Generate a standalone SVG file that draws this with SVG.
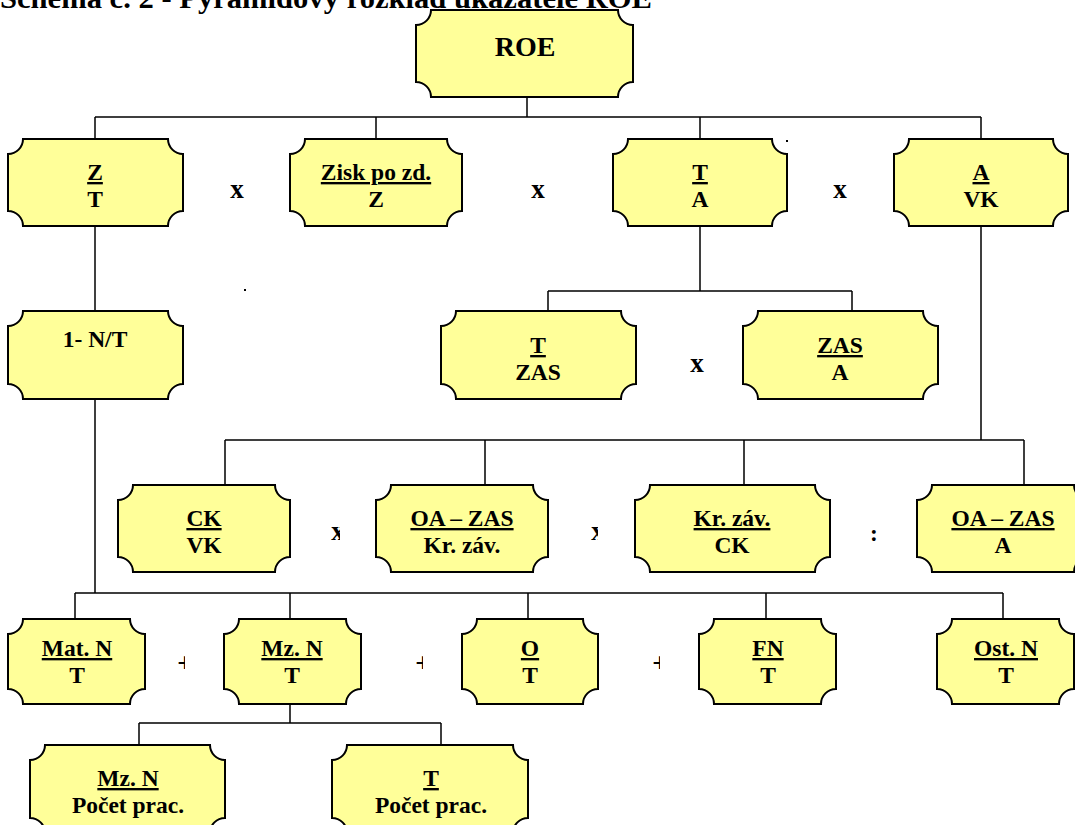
<svg xmlns="http://www.w3.org/2000/svg" width="1075" height="825" viewBox="0 0 1075 825">
<defs>
<style>
.box { fill: #FFFF99; stroke: #000; stroke-width: 2; }
.t { font-family: "Liberation Serif", "Times New Roman", serif; font-weight: bold; font-size: 23.5px; text-anchor: middle; fill: #000; }
.u { text-decoration: underline; }
.op { font-family: "Liberation Serif", "Times New Roman", serif; font-weight: bold; font-size: 27px; text-anchor: middle; fill: #000; }
.title { font-family: "Liberation Serif", "Times New Roman", serif; font-weight: bold; font-size: 29px; fill: #000; }
.conn path { fill: none; stroke: #000; stroke-width: 1.5; }
</style>
<clipPath id="c1"><rect x="170" y="640" width="15" height="40"/></clipPath>
<clipPath id="c2"><rect x="405" y="640" width="18" height="40"/></clipPath>
<clipPath id="c3"><rect x="640" y="640" width="20" height="40"/></clipPath>
<clipPath id="c4"><rect x="328" y="526" width="12" height="18"/></clipPath>
<clipPath id="c5"><rect x="588" y="526" width="10" height="18"/></clipPath>
</defs>
<rect width="1075" height="825" fill="#fff"/>
<text class="title" x="0" y="8" textLength="652" lengthAdjust="spacingAndGlyphs">Schéma č. 2 - Pyramidový rozklad ukazatele ROE</text>

<g class="conn" id="connectors">
<path d="M527 97V117M95 117H981M95 117V139M376 117V139M700 117V139M981 117V139"/>
<path d="M95 226V311"/>
<path d="M700 226V291M548 291H852M548 291V311M852 291V311"/>
<path d="M981 226V440M225 440H1024M225 440V485M485 440V485M744 440V485M1024 440V485"/>
<path d="M95 399V593M75 593H1003M75 593V619M290 593V619M528 593V619M766 593V619M1003 593V619"/>
<path d="M290 704V723M139 723H441M139 723V745M441 723V745"/>
</g>

<g id="roe"><path class="box" d="M431 10H618A15 15 0 0 0 633 25V82A15 15 0 0 0 618 97H431A15 15 0 0 0 416 82V25A15 15 0 0 0 431 10Z"/><text class="t" x="525" y="56" style="font-size:28px">ROE</text></g>

<g id="z-t"><path class="box" d="M23 139H168A15 15 0 0 0 183 154V211A15 15 0 0 0 168 226H23A15 15 0 0 0 8 211V154A15 15 0 0 0 23 139Z"/><text class="t u" x="95" y="180">Z</text><text class="t" x="95" y="207">T</text></g>
<g id="zisk-z"><path class="box" d="M305 139H447A15 15 0 0 0 462 154V211A15 15 0 0 0 447 226H305A15 15 0 0 0 290 211V154A15 15 0 0 0 305 139Z"/><text class="t u" x="376" y="180">Zisk po zd.</text><text class="t" x="376" y="207">Z</text></g>
<g id="t-a"><path class="box" d="M628 139H772A15 15 0 0 0 787 154V211A15 15 0 0 0 772 226H628A15 15 0 0 0 613 211V154A15 15 0 0 0 628 139Z"/><text class="t u" x="700" y="180">T</text><text class="t" x="700" y="207">A</text></g>
<g id="a-vk"><path class="box" d="M909 139H1053A15 15 0 0 0 1068 154V211A15 15 0 0 0 1053 226H909A15 15 0 0 0 894 211V154A15 15 0 0 0 909 139Z"/><text class="t u" x="981" y="180">A</text><text class="t" x="981" y="207">VK</text></g>
<text class="op" x="237" y="198">x</text>
<text class="op" x="538" y="198">x</text>
<text class="op" x="840" y="198">x</text>
<rect x="786" y="140" width="2" height="2" fill="#000"/>
<rect x="244" y="289" width="2" height="2" fill="#000"/>

<g id="n-t"><path class="box" d="M23 311H168A15 15 0 0 0 183 326V384A15 15 0 0 0 168 399H23A15 15 0 0 0 8 384V326A15 15 0 0 0 23 311Z"/><text class="t" x="95" y="347">1- N/T</text></g>
<g id="t-zas"><path class="box" d="M456 311H621A15 15 0 0 0 636 326V384A15 15 0 0 0 621 399H456A15 15 0 0 0 441 384V326A15 15 0 0 0 456 311Z"/><text class="t u" x="538" y="353">T</text><text class="t" x="538" y="380">ZAS</text></g>
<g id="zas-a"><path class="box" d="M758 311H923A15 15 0 0 0 938 326V384A15 15 0 0 0 923 399H758A15 15 0 0 0 743 384V326A15 15 0 0 0 758 311Z"/><text class="t u" x="840" y="353">ZAS</text><text class="t" x="840" y="380">A</text></g>
<text class="op" x="697" y="372">x</text>

<g id="ck-vk"><path class="box" d="M133 485H275A15 15 0 0 0 290 500V557A15 15 0 0 0 275 572H133A15 15 0 0 0 118 557V500A15 15 0 0 0 133 485Z"/><text class="t u" x="204" y="526">CK</text><text class="t" x="204" y="553">VK</text></g>
<g id="oazas-krzav"><path class="box" d="M391 485H533A15 15 0 0 0 548 500V557A15 15 0 0 0 533 572H391A15 15 0 0 0 376 557V500A15 15 0 0 0 391 485Z"/><text class="t u" x="462" y="526">OA – ZAS</text><text class="t" x="462" y="553">Kr. záv.</text></g>
<g id="krzav-ck"><path class="box" d="M650 485H815A15 15 0 0 0 830 500V557A15 15 0 0 0 815 572H650A15 15 0 0 0 635 557V500A15 15 0 0 0 650 485Z"/><text class="t u" x="732" y="526">Kr. záv.</text><text class="t" x="732" y="553">CK</text></g>
<g id="oazas-a"><path class="box" d="M932 485H1074A15 15 0 0 0 1089 500V557A15 15 0 0 0 1074 572H932A15 15 0 0 0 917 557V500A15 15 0 0 0 932 485Z"/><text class="t u" x="1003" y="526">OA – ZAS</text><text class="t" x="1003" y="553">A</text></g>
<text class="op" x="338" y="540" clip-path="url(#c4)">x</text>
<text class="op" x="598" y="540" clip-path="url(#c5)">x</text>
<text class="t" x="874" y="541">:</text>

<g id="matn-t"><path class="box" d="M23 619H130A15 15 0 0 0 145 634V689A15 15 0 0 0 130 704H23A15 15 0 0 0 8 689V634A15 15 0 0 0 23 619Z"/><text class="t u" x="77" y="656">Mat. N</text><text class="t" x="77" y="683">T</text></g>
<g id="mzn-t"><path class="box" d="M239 619H346A15 15 0 0 0 361 634V689A15 15 0 0 0 346 704H239A15 15 0 0 0 224 689V634A15 15 0 0 0 239 619Z"/><text class="t u" x="292" y="656">Mz. N</text><text class="t" x="292" y="683">T</text></g>
<g id="o-t"><path class="box" d="M477 619H583A15 15 0 0 0 598 634V689A15 15 0 0 0 583 704H477A15 15 0 0 0 462 689V634A15 15 0 0 0 477 619Z"/><text class="t u" x="530" y="656">O</text><text class="t" x="530" y="683">T</text></g>
<g id="fn-t"><path class="box" d="M714 619H821A15 15 0 0 0 836 634V689A15 15 0 0 0 821 704H714A15 15 0 0 0 699 689V634A15 15 0 0 0 714 619Z"/><text class="t u" x="768" y="656">FN</text><text class="t" x="768" y="683">T</text></g>
<g id="ostn-t"><path class="box" d="M952 619H1059A15 15 0 0 0 1074 634V689A15 15 0 0 0 1059 704H952A15 15 0 0 0 937 689V634A15 15 0 0 0 952 619Z"/><text class="t u" x="1006" y="656">Ost. N</text><text class="t" x="1006" y="683">T</text></g>
<text class="op" x="185" y="672" clip-path="url(#c1)">+</text>
<text class="op" x="423" y="672" clip-path="url(#c2)">+</text>
<text class="op" x="660" y="672" clip-path="url(#c3)">+</text>

<g id="mzn-pocet"><path class="box" d="M45 745H210A15 15 0 0 0 225 760V818A15 15 0 0 0 210 833H45A15 15 0 0 0 30 818V760A15 15 0 0 0 45 745Z"/><text class="t u" x="128" y="786">Mz. N</text><text class="t" x="128" y="813">Počet prac.</text></g>
<g id="t-pocet"><path class="box" d="M347 745H513A15 15 0 0 0 528 760V818A15 15 0 0 0 513 833H347A15 15 0 0 0 332 818V760A15 15 0 0 0 347 745Z"/><text class="t u" x="431" y="786">T</text><text class="t" x="431" y="813">Počet prac.</text></g>
</svg>
